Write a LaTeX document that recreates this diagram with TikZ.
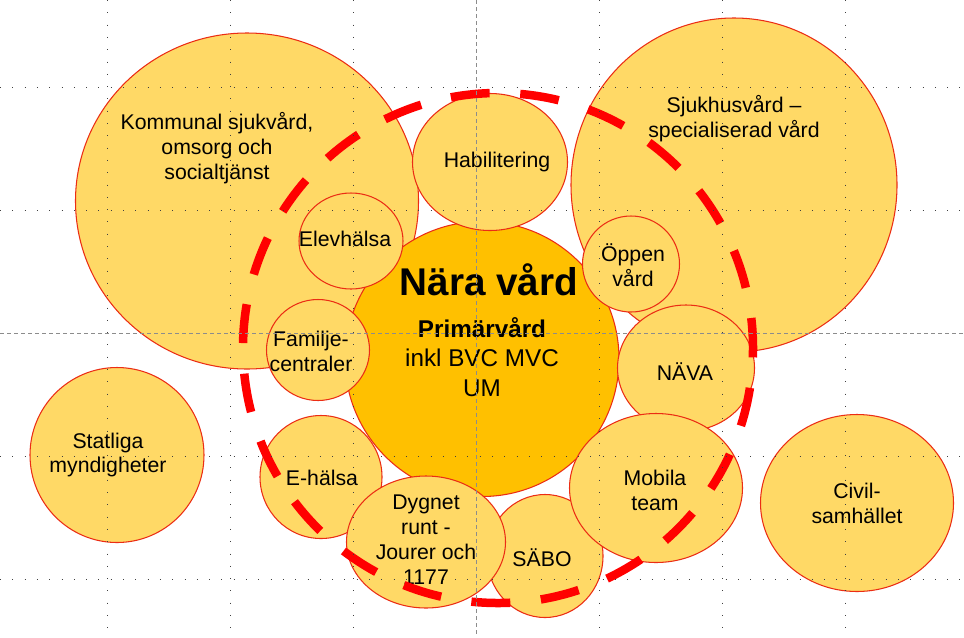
\documentclass[tikz,border=0pt]{standalone}
\usepackage{fontspec}
\setmainfont{Liberation Sans}
\usetikzlibrary{shapes.geometric}
\definecolor{bubblefill}{RGB}{255,217,102}
\definecolor{corefill}{RGB}{255,192,0}
\definecolor{rimred}{RGB}{235,45,20}
\definecolor{ringred}{RGB}{255,0,0}
\tikzset{
  bubble/.style 2 args={ellipse, draw=rimred, line width=0.6pt, fill=bubblefill,
    minimum width=#1*0.2mm, minimum height=#2*0.2mm, inner sep=0pt},
  core/.style={bubble={274}{275}, fill=corefill},
  lbl/.style={align=center, inner sep=0pt, font=\fontsize{12.1pt}{14.2pt}\selectfont},
  titlelbl/.style={inner sep=0pt, font=\fontsize{22pt}{26pt}\selectfont\bfseries},
  corelbl/.style={align=center, inner sep=0pt, font=\fontsize{13.8pt}{16.8pt}\selectfont},
  nearring/.style={draw=ringred, line width=1.7mm, dash pattern=on 7.8mm off 6.13mm, dash phase=1.78mm},
  griddot/.style={draw=black!75, line width=0.2mm, dash pattern=on 0.2mm off 2.26mm},
  guide/.style={draw=black!45, line width=0.2mm, dash pattern=on 0.8mm off 0.6mm}
}
\begin{document}
\begin{tikzpicture}[x=0.2mm,y=-0.2mm]
\path[use as bounding box, fill=white] (0,0) rectangle (964,637);

\node[bubble={343}{336}] (kommunal) at (247,201) {};
\node[bubble={326}{334}] (sjukhus) at (734,185) {};
\node[bubble={174}{175}] (statliga) at (117,455) {};
\node[bubble={193}{177}] (civil) at (857,503) {};
\node[core] (nara) at (482,359) {};
\node[bubble={155}{137}] (habilitering) at (490,162) {};
\node[bubble={104}{96}] (elevhalsa) at (351,241) {};
\node[bubble={103}{101}] (familje) at (318,350) {};
\node[bubble={97}{96}] (oppen) at (631,264) {};
\node[bubble={137}{126}] (nava) at (686,368) {};
\node[bubble={122}{123}] (ehalsa) at (321,477) {};
\node[bubble={116}{123}] (sabo) at (545,556) {};
\node[bubble={173}{149}] (mobila) at (656,488) {};
\node[bubble={159}{132}] (dygnet) at (426,542) {};

\node[lbl] (kommunal-t) at (217,148) {Kommunal sjukvård,\\omsorg och\\socialtjänst};
\node[lbl] (sjukhus-t) at (734,119) {Sjukhusvård –\\specialiserad vård};
\node[lbl] (habilitering-t) at (497,162) {Habilitering};
\node[lbl] (elevhalsa-t) at (345,239) {Elevhälsa};
\node[lbl] (familje-t) at (311,351) {Familje-\\centraler};
\node[lbl] (oppen-t) at (633,265) {Öppen\\vård};
\node[lbl] (nava-t) at (685,372) {NÄVA};
\node[lbl] (statliga-t) at (108,455) {Statliga\\myndigheter};
\node[lbl] (ehalsa-t) at (322,478) {E-hälsa};
\node[lbl] (dygnet-t) at (426,540) {Dygnet\\runt -\\Jourer och\\1177};
\node[lbl] (sabo-t) at (542,558) {SÄBO};
\node[lbl] (mobila-t) at (655,490) {Mobila\\team};
\node[lbl] (civil-t) at (857,503) {Civil-\\samhället};
\node[titlelbl] (nara-t) at (489,280) {Nära vård};
\node[corelbl] (primar-t) at (482,357) {\textbf{Primärvård}\\inkl BVC MVC\\UM};

\coordinate (ringc) at (498,348);
\draw[nearring] (ringc) circle [radius=51mm];

\foreach \gx in {107,230,353,599,722,845}
  \draw[griddot] (\gx,0) -- (\gx,637);
\foreach \gy in {87,210,456,579}
  \draw[griddot] (0,\gy) -- (964,\gy);
\draw[guide] (476,0) -- (476,637);
\draw[guide] (0,333) -- (964,333);
\end{tikzpicture}
\end{document}
